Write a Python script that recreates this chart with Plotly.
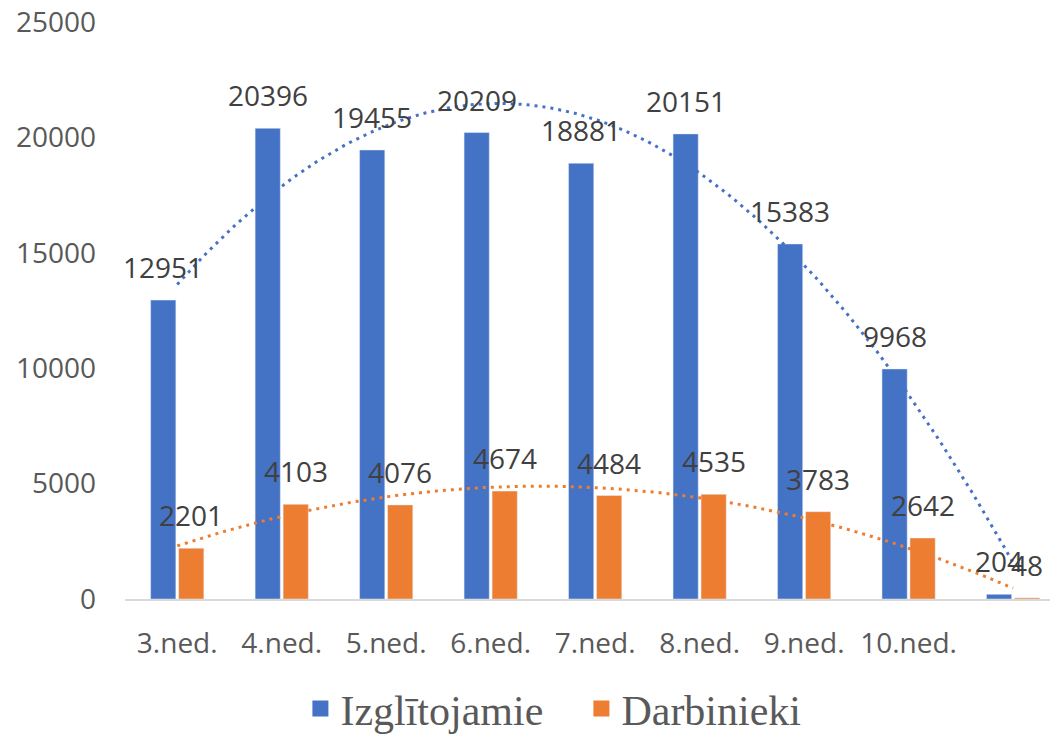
import numpy as np
import plotly.graph_objects as go

categories = ["3.ned.", "4.ned.", "5.ned.", "6.ned.", "7.ned.", "8.ned.", "9.ned.", "10.ned.", ""]
izglitojamie = [12951, 20396, 19455, 20209, 18881, 20151, 15383, 9968, 204]
darbinieki = [2201, 4103, 4076, 4674, 4484, 4535, 3783, 2642, 48]
y_ticks = [0, 5000, 10000, 15000, 20000, 25000]

BLUE = "#4472C4"
ORANGE = "#ED7D31"
LABEL_FONT = dict(family="Open Sans", size=28, color="#404040")
TICK_FONT = dict(family="Open Sans", size=28, color="#595959")

bargap = 0.464
off = (1 - bargap) / 4
x = np.arange(len(categories))

fig = go.Figure()
fig.add_trace(go.Bar(x=x, y=izglitojamie, marker_color=BLUE, showlegend=False))
fig.add_trace(go.Bar(x=x, y=darbinieki, marker_color=ORANGE, showlegend=False))

# polynomial (order 2) trendlines, like Excel
xs = np.linspace(x[0], x[-1], 200)
for vals, col in [(izglitojamie, BLUE), (darbinieki, ORANGE)]:
    coef = np.polyfit(x, vals, 2)
    fig.add_trace(go.Scatter(x=xs, y=np.polyval(coef, xs), mode="lines",
                             line=dict(color=col, width=3, dash="3px,5px"),
                             showlegend=False, hoverinfo="skip"))

# legend entries
fig.add_trace(go.Scatter(x=[None], y=[None], mode="markers", name="Izglītojamie",
                         marker=dict(symbol="square", size=22, color=BLUE)))
fig.add_trace(go.Scatter(x=[None], y=[None], mode="markers", name="Darbinieki",
                         marker=dict(symbol="square", size=22, color=ORANGE)))

for i in range(len(categories)):
    fig.add_annotation(x=i - off, y=izglitojamie[i], text=str(izglitojamie[i]),
                       showarrow=False, yanchor="bottom", yshift=12, font=LABEL_FONT)
    fig.add_annotation(x=i + off, y=darbinieki[i], text=str(darbinieki[i]),
                       showarrow=False, yanchor="bottom", yshift=12, font=LABEL_FONT)

# page body has an 8px margin, so the figure is 8px smaller than the window
fig.update_layout(
    width=1050, height=727,
    margin=dict(l=117, r=0, t=14, b=136, autoexpand=False),
    plot_bgcolor="white", paper_bgcolor="white",
    barmode="group", bargap=bargap, bargroupgap=0.1,
    legend=dict(orientation="h", x=0.188, xanchor="left", y=-0.19, yanchor="middle",
                font=dict(family="Liberation Serif", size=42, color="#595959"),
                itemsizing="trace", entrywidth=236),
    xaxis=dict(range=[-0.5, 8.43], tickvals=list(x), ticktext=categories,
               showgrid=False, zeroline=False, showline=True, linecolor="#D9D9D9",
               linewidth=2, tickfont=TICK_FONT, ticklabelstandoff=18, automargin=False),
    yaxis=dict(range=[0, 25000], tickvals=y_ticks, ticktext=[str(v) for v in y_ticks],
               showgrid=False, zeroline=False, showline=False, tickfont=TICK_FONT,
               ticklabelstandoff=28, automargin=False, ticklabeloverflow="allow"),
)

fig.write_html("out.html")
